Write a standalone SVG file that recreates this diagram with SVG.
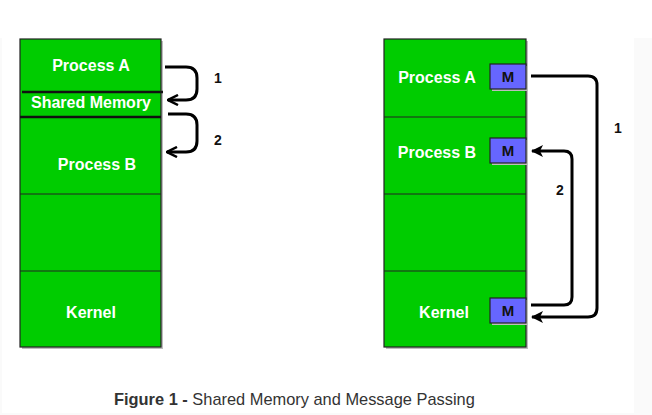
<svg xmlns="http://www.w3.org/2000/svg" width="652" height="415" viewBox="0 0 652 415">
<defs>
<marker id="classic" viewBox="0 0 12 12" refX="11" refY="6" markerWidth="12" markerHeight="12" markerUnits="userSpaceOnUse" orient="auto">
<path d="M0,0 L12,6 L0,12 L3,6 Z" fill="#000"/>
</marker>
<marker id="open" viewBox="0 0 12 12" refX="11" refY="6" markerWidth="12" markerHeight="12" markerUnits="userSpaceOnUse" orient="auto">
<path d="M1,1 L11,6 L1,11" fill="none" stroke="#000" stroke-width="2.5"/>
</marker>
</defs>
<style>
.box{fill:#00cc00;stroke:#222;stroke-width:1.2}
.shadow{fill:#bdbdbd}
.sep{stroke:#222;stroke-width:1.2}
.thick{stroke:#111;stroke-width:2.5}
.lbl{font-family:"Liberation Sans",Arial,sans-serif;font-weight:bold;font-size:16px;fill:#fff;text-anchor:middle}
.m{fill:#6666ff;stroke:#222;stroke-width:1.2}
.mt{font-family:"Liberation Sans",Arial,sans-serif;font-weight:bold;font-size:15px;fill:#111;text-anchor:middle}
.num{font-family:"Liberation Sans",Arial,sans-serif;font-weight:bold;font-size:14px;fill:#111;text-anchor:middle}
.conn{fill:none;stroke:#000;stroke-width:3}
</style>
<rect x="0" y="0" width="652" height="415" fill="#fafafa"/>
<rect x="0" y="0" width="652" height="38" fill="#fff"/>
<rect x="2" y="38" width="632" height="375" fill="#fff"/>

<g id="left-stack">
<rect class="shadow" x="22" y="41" width="141" height="308"/>
<rect class="box" x="20" y="39" width="141" height="308"/>
<line class="thick" x1="22" y1="92" x2="163" y2="92"/>
<line class="thick" x1="20" y1="117" x2="161" y2="117"/>
<line class="sep" x1="20" y1="194" x2="161" y2="194"/>
<line class="sep" x1="20" y1="271" x2="161" y2="271"/>
</g>
<g id="left-process-a"><text class="lbl" x="91" y="71">Process A</text></g>
<g id="left-shared-memory"><text class="lbl" x="91" y="108">Shared Memory</text></g>
<g id="left-process-b"><text class="lbl" x="97" y="170">Process B</text></g>
<g id="left-empty"></g>
<g id="left-kernel"><text class="lbl" x="91" y="318">Kernel</text></g>

<g id="right-stack">
<rect class="shadow" x="386" y="41" width="142" height="308"/>
<rect class="box" x="384" y="39" width="142" height="308"/>
<line class="sep" x1="384" y1="117" x2="526" y2="117"/>
<line class="sep" x1="384" y1="194" x2="526" y2="194"/>
<line class="sep" x1="384" y1="271" x2="526" y2="271"/>
</g>
<g id="right-process-a">
<text class="lbl" x="437" y="83">Process A</text>
<rect class="shadow" x="492" y="66" width="36" height="25"/>
<rect class="m" x="490" y="64" width="36" height="25"/>
<text class="mt" x="508" y="82">M</text>
</g>
<g id="right-process-b">
<text class="lbl" x="437" y="158">Process B</text>
<rect class="shadow" x="492" y="140" width="36" height="25"/>
<rect class="m" x="490" y="138" width="36" height="25"/>
<text class="mt" x="508" y="156">M</text>
</g>
<g id="right-empty"></g>
<g id="right-kernel">
<text class="lbl" x="444" y="318">Kernel</text>
<rect class="shadow" x="492" y="300" width="36" height="25"/>
<rect class="m" x="490" y="298" width="36" height="25"/>
<text class="mt" x="508" y="316">M</text>
</g>

<g id="connectors">
<path class="conn" d="M165,67 L186,67 Q197,67 197,78 L197,89 Q197,100 186,100 L168,100" marker-end="url(#open)"/>
<path class="conn" d="M168,114 L186,114 Q197,114 197,125 L197,141 Q197,152 186,152 L167,152" marker-end="url(#open)"/>
<path class="conn" d="M531,76 L588,76 Q597,76 597,85 L597,308 Q597,317 588,317 L532,317" marker-end="url(#classic)"/>
<path class="conn" d="M531,305 L564,305 Q572,305 572,297 L572,159 Q572,151 564,151 L532,151" marker-end="url(#classic)"/>
<text class="num" x="218" y="83">1</text>
<text class="num" x="218" y="145">2</text>
<text class="num" x="618" y="133">1</text>
<text class="num" x="560" y="195">2</text>
</g>

<g id="caption">
<text x="114" y="405" font-family="Liberation Sans,Arial,sans-serif" font-size="16.4px" fill="#333"><tspan font-weight="bold">Figure 1 - </tspan>Shared Memory and Message Passing</text>
</g>
</svg>
